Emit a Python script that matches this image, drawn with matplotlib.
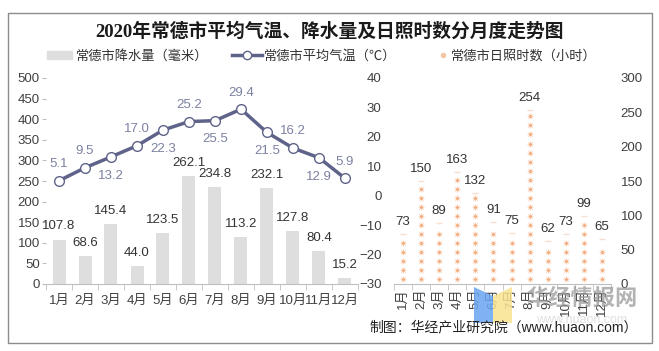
import numpy as np
import matplotlib
matplotlib.use('Agg')
from matplotlib import pyplot as plt
from matplotlib.patches import Patch, Rectangle, Polygon
from matplotlib.lines import Line2D

plt.rcParams['font.family'] = ['Liberation Sans', 'Noto Sans CJK SC', 'DejaVu Sans']

##################
# data

months = ['1月', '2月', '3月', '4月', '5月', '6月', '7月', '8月', '9月', '10月', '11月', '12月']
rain = [107.8, 68.6, 145.4, 44.0, 123.5, 262.1, 234.8, 113.2, 232.1, 127.8, 80.4, 15.2]
temp = [5.1, 9.5, 13.2, 17.0, 22.3, 25.2, 25.5, 29.4, 21.5, 16.2, 12.9, 5.9]
temp_above = [True, True, False, True, False, True, False, True, False, True, False, True]
sun = [73, 150, 89, 163, 132, 91, 75, 254, 62, 73, 99, 65]

W, H = 659, 351
fig = plt.figure(figsize=(W / 100, H / 100), dpi=100)

def fx(px):
    return px / W

def fy(py):
    return 1 - py / H

txt_c = '#404040'
axis_c = '#bfbfbf'
line_c = '#5f6389'
x = np.arange(len(months))

# ---------- left panel: rain bars + temperature line
ax = fig.add_axes([fx(46), fy(284), fx(358 - 46), fy(78) - fy(284)])
ax.bar(x, rain, width=0.5, color='#dedede', zorder=2)
for xi, v in zip(x, rain):
    ax.annotate(f'{v:.1f}', (xi, v), xytext=(0, 9.5), textcoords='offset points',
                ha='center', va='center', fontsize=9.5, color='#333333')
ax.set_xlim(-0.5, 11.5)
ax.set_ylim(0, 500)
ax.set_yticks(np.arange(0, 501, 50))
ax.set_xticks(x)
ax.set_xticklabels(months)
ax.set_xticks(np.arange(-0.5, 12, 1), minor=True)
ax.tick_params(axis='x', which='major', length=0, pad=8, labelsize=9.5, labelcolor=txt_c)
ax.tick_params(axis='x', which='minor', length=4, color=axis_c)
ax.tick_params(axis='y', length=3, pad=1.5, color=axis_c, labelsize=9.5, labelcolor=txt_c)
for s in ['top', 'right', 'left']:
    ax.spines[s].set_visible(False)
ax.spines['bottom'].set_color(axis_c)

ax2 = ax.twinx()
ax2.set_ylim(-30, 40)
ax2.plot(x, temp, color=line_c, lw=2.5, marker='o', ms=7, mfc='white', mec=line_c, mew=1, zorder=3)
for xi, v, up in zip(x, temp, temp_above):
    ax2.annotate(f'{v:.1f}', (xi, v), xytext=(0, 12 if up else -13.5), textcoords='offset points',
                 ha='center', va='center', fontsize=9.5, color='#7c81a2')
ax2.axis('off')

# ---------- right panel: sunshine hours as dotted columns
ax3 = fig.add_axes([fx(394), fy(284), fx(611 - 394), fy(78) - fy(284)])
ax3.set_ylim(-30, 40)
ax3.set_yticks(np.arange(-30, 41, 10))
ax3.set_xlim(-0.5, 11.5)
ax3.set_xticks(x)
ax3.set_xticklabels(months, rotation=90)
ax3.set_xticks(np.arange(-0.5, 12, 1), minor=True)
ax3.tick_params(axis='x', which='major', length=0, pad=3, labelsize=9.5, labelcolor=txt_c)
ax3.tick_params(axis='x', which='minor', length=4, color=axis_c)
ax3.tick_params(axis='y', length=0, pad=9, labelsize=9.5, labelcolor=txt_c)
for s in ['top', 'right', 'left']:
    ax3.spines[s].set_visible(False)
ax3.spines['bottom'].set_color(axis_c)

ax4 = ax3.twinx()
ax4.set_ylim(0, 300)
ax4.set_yticks(np.arange(0, 301, 50))
ax4.tick_params(axis='y', length=0, pad=7, labelsize=9.5, labelcolor=txt_c)
for s in ['top', 'right', 'left', 'bottom']:
    ax4.spines[s].set_visible(False)
step = 13.2
for xi, v in zip(x, sun):
    ys = np.arange(step / 2, v - step / 2 + 1e-9, step)
    ax4.scatter(np.full(len(ys), xi), ys, marker=(8, 2, 0), s=14, color='#fbdcc6', lw=0.6, zorder=2)
    ax4.scatter(np.full(len(ys), xi), ys, marker='o', s=4, color='#f0a878', lw=0, zorder=3)
ax4.scatter(x, sun, marker='_', s=20, color='#f7e0d0', lw=1, zorder=2)
for xi, v in zip(x, sun):
    ax4.annotate(f'{v}', (xi, v), xytext=(0, 8.6), textcoords='offset points',
                 ha='center', va='center', fontsize=9.5, color='#333333')

# ---------- title, legend, frame, footer
fig.text(fx(330), fy(31), '2020年常德市平均气温、降水量及日照时数分月度走势图', ha='center', va='center',
         fontsize=13.5, fontweight='bold', color='#1a1a1a',
         family=['Liberation Serif', 'Noto Sans CJK SC'])

leg_items = [
    (Patch(color='#dedede'), '常德市降水量（毫米）', 47, 1.9, 0.3),
    (Line2D([], [], color=line_c, lw=2.5, marker='o', ms=6, mfc='white', mec=line_c),
     '常德市平均气温（℃）', 232, 2.3, 0.1),
    (Line2D([], [], color='none', marker='o', ms=3, mfc='#f5c6a5', mec='#f5c6a5'),
     '常德市日照时数（小时）', 438, 0.8, 0.2),
]
for h, lab, px, hl, tp in leg_items:
    fig.legend([h], [lab], loc='center left', bbox_to_anchor=(fx(px), fy(56)), frameon=False,
               fontsize=9.5, handlelength=hl, handleheight=0.6, handletextpad=tp,
               borderpad=0, borderaxespad=0, labelcolor='#333333')

fig.add_artist(Rectangle((fx(8), fy(343)), fx(652 - 8), fy(13) - fy(343), transform=fig.transFigure,
                         fill=False, edgecolor='#8c8c8c', lw=1))

# watermark
fig.add_artist(Polygon([(fx(474), fy(323)), (fx(493), fy(323)), (fx(493), fy(296)), (fx(474), fy(287))],
                       transform=fig.transFigure, color='#6aa5f2', alpha=0.85, lw=0))
fig.add_artist(Polygon([(fx(493), fy(323)), (fx(512), fy(323)), (fx(512), fy(287)), (fx(493), fy(296))],
                       transform=fig.transFigure, color='#f8e390', alpha=0.85, lw=0))
fig.text(fx(582), fy(298), '华经情报网', ha='center', va='center', fontsize=16, fontweight='bold',
         color='#9a9a9a', alpha=0.75, family=['Noto Sans CJK SC'])
fig.text(fx(582), fy(320), 'www.huaon.com', ha='center', va='center', fontsize=9,
         color='#d8d8d8', alpha=0.8)

fig.text(fx(638), fy(327), '制图：华经产业研究院（www.huaon.com）', ha='right', va='center',
         fontsize=10, color='#222222')

fig.savefig('out.png', dpi=100)
